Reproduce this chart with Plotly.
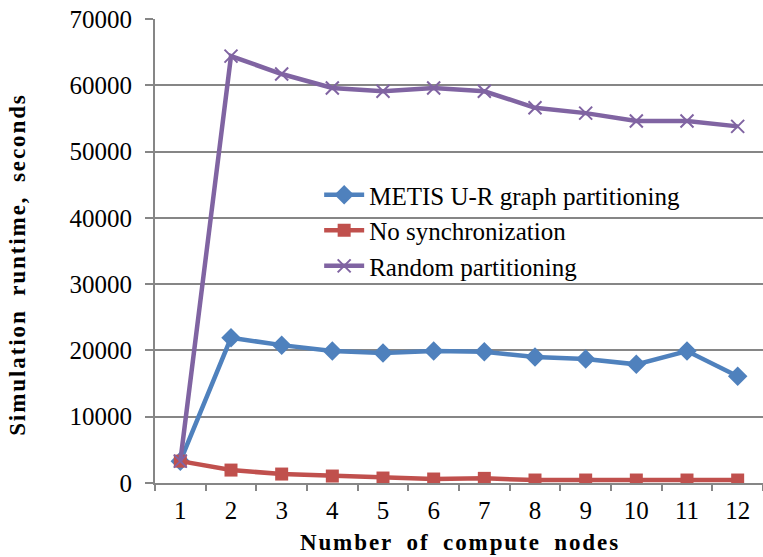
import plotly.graph_objects as go

nodes = ["1", "2", "3", "4", "5", "6", "7", "8", "9", "10", "11", "12"]
metis = [3300, 21900, 20800, 19900, 19600, 19900, 19800, 19000, 18700, 17900, 19900, 16100]
no_sync = [3300, 1950, 1350, 1050, 750, 600, 700, 450, 450, 450, 450, 450]
random_part = [3300, 64400, 61700, 59600, 59100, 59600, 59100, 56600, 55800, 54600, 54600, 53800]
y_ticks = [0, 10000, 20000, 30000, 40000, 50000, 60000, 70000]

SERIF = "'Liberation Serif', 'Times New Roman', serif"


def spaced(text):
    # widen the bold axis titles with hair spaces between letters
    return "\u200a".join(ch if ch != " " else "\u00a0\u00a0" for ch in text)


fig = go.Figure()
fig.add_trace(go.Scatter(
    x=nodes, y=metis, mode="lines+markers", name="METIS U-R graph partitioning",
    line=dict(color="#4F81BD", width=4.5),
    marker=dict(symbol="diamond", size=15, color="#4F81BD"),
))
fig.add_trace(go.Scatter(
    x=nodes, y=no_sync, mode="lines+markers", name="No synchronization",
    line=dict(color="#C0504D", width=4.5),
    marker=dict(symbol="square", size=13, color="#C0504D"),
))
fig.add_trace(go.Scatter(
    x=nodes, y=random_part, mode="lines+markers", name="Random partitioning",
    line=dict(color="#8064A2", width=4.5),
    marker=dict(symbol="x-thin", size=13, line=dict(color="#8064A2", width=2)),
))

fig.update_layout(
    width=763, height=557,
    margin=dict(l=155, r=0, t=19, b=74),
    paper_bgcolor="white", plot_bgcolor="white",
    font=dict(family=SERIF, color="black", size=25),
    showlegend=True,
    legend=dict(
        x=0.27, y=0.67, xanchor="left", yanchor="top",
        bgcolor="rgba(0,0,0,0)", font=dict(size=25, family=SERIF),
        tracegroupgap=0, itemwidth=40,
    ),
    xaxis=dict(
        type="category", categoryorder="array", categoryarray=nodes,
        range=[-0.5, 11.5], autorange=False,
        showline=True, linecolor="#868686", linewidth=2,
        ticks="outside", tickson="boundaries", ticklen=6, tickcolor="#868686", tickwidth=2,
        ticklabelstandoff=4,
        showgrid=False, tickfont=dict(size=25, family=SERIF),
        title=dict(text="<b>" + spaced("Number of compute nodes") + "</b>",
                   font=dict(size=23, family=SERIF), standoff=11),
    ),
    yaxis=dict(
        range=[0, 70000], autorange=False, tickvals=y_ticks, ticktext=[str(v) for v in y_ticks],
        showline=True, linecolor="#868686", linewidth=2,
        ticks="outside", ticklen=8, tickcolor="#868686", tickwidth=2,
        ticklabelstandoff=8,
        showgrid=True, gridcolor="#868686", gridwidth=2, zeroline=False,
        tickfont=dict(size=25, family=SERIF),
    ),
    annotations=[dict(
        text="<b>" + spaced("Simulation runtime, seconds") + "</b>",
        textangle=-90, xref="paper", yref="paper", x=0, y=0.468,
        xanchor="center", yanchor="middle", xshift=-137, showarrow=False,
        font=dict(size=23, family=SERIF, color="black"),
    )],
)

fig.write_html("out.html")
